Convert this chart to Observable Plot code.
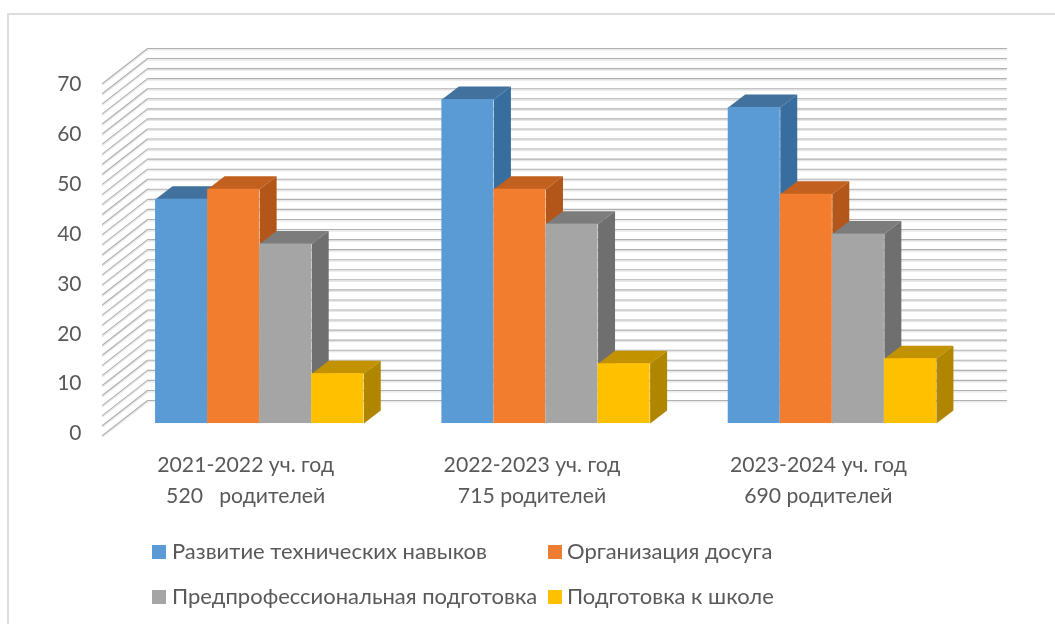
<!DOCTYPE html>
<html lang="ru">
<head>
<meta charset="utf-8">
<script src="https://cdn.jsdelivr.net/npm/d3@7"></script>
<script src="https://cdn.jsdelivr.net/npm/@observablehq/plot@0.6"></script>
<style>
html,body{margin:0;padding:0;background:#fff}
#page{position:relative;width:1055px;height:624px;overflow:hidden;font-family:Lato,"Open Sans",sans-serif;color:#595959}
#frame{position:absolute;left:7px;top:13px;right:0;bottom:-4px;border:2px solid #dedede;border-right:0;border-bottom:0}
#chart{position:absolute;left:0;top:0}
#chart svg{filter:blur(.5px);background:transparent}
.lg{position:absolute;white-space:nowrap;font-size:22px;line-height:24px;filter:blur(.4px)}
.sw{position:absolute;width:14px;height:14px}
</style>
</head>
<body>
<div id="page"><div id="frame"></div><div id="chart"></div></div>
<script>
const groups = ["2021-2022 уч. год\n520   родителей", "2022-2023 уч. год\n715 родителей", "2023-2024 уч. год\n690 родителей"];
const groupStart = [0, 5.5, 11];
const groupCenter = [2, 7.5, 13];
const seriesNames = ["Развитие технических навыков", "Организация досуга", "Предпрофессиональная подготовка", "Подготовка к школе"];
const technical = [45, 65, 63.4];
const leisure = [47, 47, 46];
const preprof = [36, 40, 38];
const school = [10, 12, 13];
const seriesValues = [technical, leisure, preprof, school];
const frontColors = ["#5b9bd5", "#f27d2e", "#a5a5a5", "#ffc000"];
const legendColors = ["#5b9bd5", "#ed7d31", "#a5a5a5", "#ffc000"];
const topColors = ["#41719c", "#c2611f", "#7c7c7c", "#c29200"];
const sideColors = ["#386d9f", "#b2561a", "#6f6f6f", "#b08500"];
const yTicks = [0, 10, 20, 30, 40, 50, 60, 70];
const gridValues = d3.range(36).map(i => -0.4 + i * 70.6 / 35);

// oblique projection, in data units
const wall = {x0: -0.75, x1: 15.75, dx: 0.864, dy: 7.02};
const bar = {frontDx: 0.269, backDx: 0.595, frontDy: 2.0, backDy: 4.6};

const wallRows = gridValues.flatMap((g, i) => [
  {id: i, x: wall.x0, y: g},
  {id: i, x: wall.x0 + wall.dx, y: g + wall.dy},
  {id: i, x: wall.x1 + wall.dx, y: g + wall.dy}
]);

const barMarks = seriesValues.flatMap((vals, s) => {
  const rows = vals.map((v, g) => ({g, v, a: groupStart[g] + s, b: groupStart[g] + s + 1}));
  const top = rows.flatMap(r => [
    {id: r.g, x: r.a + bar.frontDx, y: r.v + bar.frontDy},
    {id: r.g, x: r.a + bar.backDx, y: r.v + bar.backDy},
    {id: r.g, x: r.b + bar.backDx, y: r.v + bar.backDy},
    {id: r.g, x: r.b + bar.frontDx, y: r.v + bar.frontDy}
  ]);
  const side = rows.flatMap(r => [
    {id: r.g, x: r.b + bar.frontDx, y: bar.frontDy},
    {id: r.g, x: r.b + bar.backDx, y: bar.backDy},
    {id: r.g, x: r.b + bar.backDx, y: r.v + bar.backDy},
    {id: r.g, x: r.b + bar.frontDx, y: r.v + bar.frontDy}
  ]);
  return [
    Plot.line(top, {x: "x", y: "y", z: "id", fill: topColors[s], stroke: "none"}),
    Plot.line(side, {x: "x", y: "y", z: "id", fill: sideColors[s], stroke: "none"}),
    Plot.rect(rows, {
      x1: r => r.a + bar.frontDx, x2: r => r.b + bar.frontDx,
      y1: bar.frontDy, y2: r => r.v + bar.frontDy, fill: frontColors[s]
    })
  ];
});

const chart = Plot.plot({
  width: 1055, height: 530,
  marginLeft: 102, marginTop: 0, marginRight: 0, marginBottom: 0,
  style: {fontFamily: 'Lato, "Open Sans", sans-serif', background: "transparent"},
  x: {domain: [wall.x0, wall.x1], range: [102, 961], axis: null},
  y: {domain: [-0.4, 70.2], range: [435, 83], label: null},
  marks: [
    Plot.line(wallRows, {x: "x", y: "y", z: "id", stroke: "#e8e8e8", strokeWidth: 1.4, dy: 1.4}),
    Plot.line(wallRows, {x: "x", y: "y", z: "id", stroke: "#b0b0b0", strokeWidth: 1.1}),
    Plot.axisY(yTicks, {tickSize: 0, tickPadding: 21, fontSize: 21, fill: "#595959", tickFormat: d => d, label: null}),
    ...barMarks,
    Plot.text(groups, {
      x: (d, i) => groupCenter[i], y: -8.9, text: d => d,
      fontSize: 21.2, lineHeight: 1.46, fill: "#595959", textAnchor: "middle"
    })
  ]
});
document.getElementById("chart").append(chart);

const legendPos = [[152, 545, 172], [548, 545, 567], [152, 590, 172], [548, 590, 567]];
const page = document.getElementById("page");
seriesNames.forEach((n, i) => {
  const [l, t, tl] = legendPos[i];
  const sw = document.createElement("div");
  sw.className = "sw"; sw.style.cssText = `left:${l}px;top:${t}px;background:${legendColors[i]}`;
  const tx = document.createElement("div");
  tx.className = "lg"; tx.textContent = n;
  tx.style.cssText = `left:${tl}px;top:${t - 6.5}px`;
  page.append(sw, tx);
});
</script>
</body>
</html>
